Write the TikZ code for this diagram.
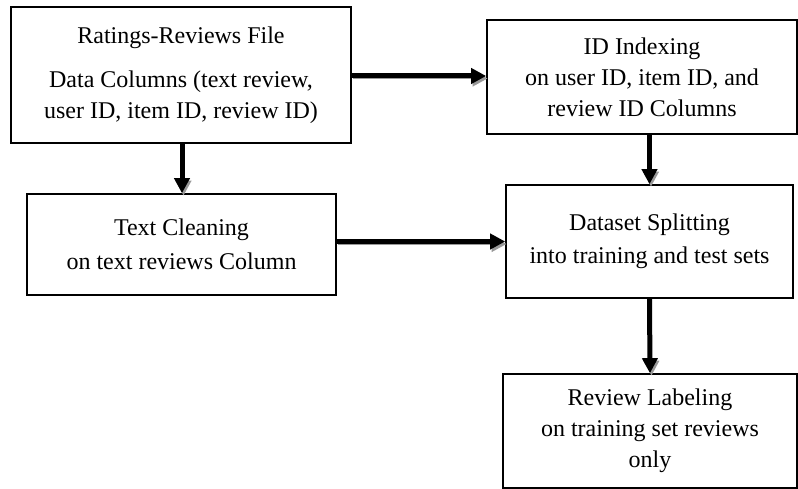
\documentclass[tikz,border=0pt]{standalone}
\usepackage{fontspec}
\setmainfont{Liberation Serif}
\usetikzlibrary{arrows.meta}
\begin{document}
\begin{tikzpicture}[x=1pt,y=-1pt,
  stage/.style={draw=black, line width=1.6pt, fill=white, inner sep=0pt,
    align=center, font=\fontsize{24}{31}\selectfont},
  flow/.style={line width=5pt, -{Triangle[length=15pt,width=15pt]},
    preaction={draw=black!40, transform canvas={xshift=1.5pt,yshift=-2.5pt}}}]
\useasboundingbox (0,0) rectangle (798,489);

\node[stage, minimum width=340pt, minimum height=136pt] (file) at (181,75)
  {Ratings-Reviews File\\[13pt]Data Columns (text review,\\user ID, item ID, review ID)};
\node[stage, minimum width=310pt, minimum height=114pt] (index) at (642,77)
  {ID Indexing\\on user ID, item ID, and\\review ID Columns};
\node[stage, minimum width=309pt, minimum height=101pt,
  font=\fontsize{24}{34}\selectfont] (clean) at (181.5,244.5)
  {Text Cleaning\\on text reviews Column};
\node[stage, minimum width=287pt, minimum height=113pt,
  font=\fontsize{24}{33}\selectfont] (split) at (649.5,241.5)
  {Dataset Splitting\\into training and test sets};
\node[stage, minimum width=294pt, minimum height=114pt] (label) at (650,431)
  {Review Labeling\\on training set reviews\\only};

\draw[flow] (file.east |- 0,76) -- (index.west |- 0,76);
\draw[flow] (file.south -| 182,0) -- (clean.north -| 182,0);
\draw[flow] (clean.east |- split.west) -- (split.west);
\draw[flow] (split.north |- index.south) -- (split.north);
\draw[flow] (split.south) -- (label.north);
\end{tikzpicture}
\end{document}
